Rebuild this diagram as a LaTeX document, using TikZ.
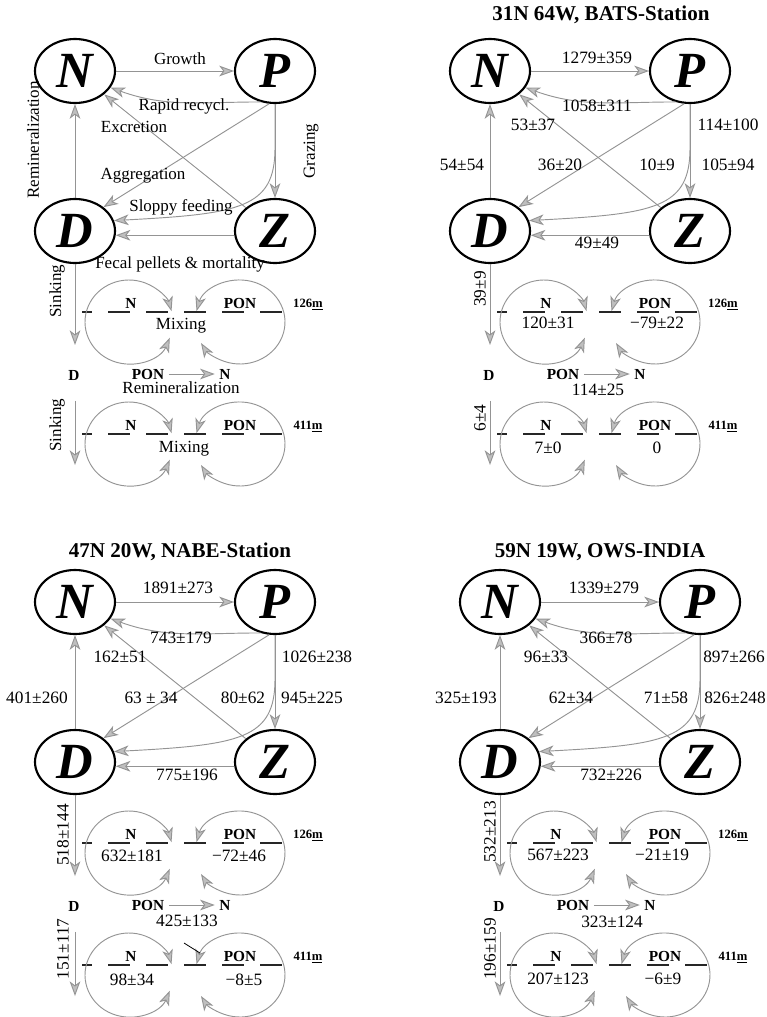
\documentclass[tikz,border=0pt]{standalone}
\usepackage{fontspec}
\setmainfont{Liberation Serif}
\usetikzlibrary{arrows.meta,positioning,shapes.geometric}

\begin{document}
\begin{tikzpicture}[x=0.75pt,y=0.75pt,
  >={Stealth[length=11pt,width=8pt,inset=3pt,fill=black!25]},
  box/.style={ellipse,draw,line width=1.6pt,minimum width=60pt,minimum height=48pt,inner sep=0pt,
    font=\fontsize{38}{40}\selectfont\bfseries\itshape},
  flow/.style={->,draw=black!42,line width=0.7pt},
  mix/.style={<->,draw=black!42,line width=0.7pt},
  level/.style={draw=black!85,line width=0.9pt,dash pattern=on 16.5pt off 12pt,dash phase=9pt},
  num/.style={font=\fontsize{13}{15}\selectfont},
  lab/.style={font=\fontsize{12.75}{14}\selectfont},
  bl/.style={font=\fontsize{11.5}{13}\selectfont\bfseries},
  dep/.style={font=\fontsize{9.5}{11}\selectfont\bfseries},
  ttl/.style={font=\fontsize{15.8}{18}\selectfont\bfseries}]
  \useasboundingbox (0,0) rectangle (767,-1017);

  \foreach \px/\py/\k in {0/0/a,415/0/b,0/531/c,425/531/d}{
    \begin{scope}[shift={(\px,-\py)}]
      \node[box] (N\k) at (75,-71) {N};
      \node[box] (P\k) at (275,-71) {P};
      \node[box] (D\k) at (75,-231) {D};
      \node[box] (Z\k) at (275,-231) {Z};
      \draw[flow] (N\k) -- (P\k);
      \draw[flow] (P\k.245) to[out=180,in=-20] (N\k.-25);
      \draw[flow] (Z\k) -- (N\k);
      \draw[flow] (P\k.260) -- (D\k.40);
      \draw[flow] (P\k) -- (Z\k);
      \draw[flow] (P\k.south) -- ++(0,-44) to[out=-90,in=3,out distance=45pt,in distance=95pt] (D\k.15);
      \draw[flow] (Z\k.186) -- (D\k.-6);
      \draw[flow] (D\k) -- (N\k);
      \coordinate (s1\k) at (75,-345);
      \draw[flow] (D\k) -- (s1\k);
      \node[bl] (Dl\k) at (74,-375) {D};
      \coordinate (s2\k) at (75,-465);
      \draw[flow,shorten <=12pt] (Dl\k.south -| s2\k) -- (s2\k);
      \node[bl] (pon\k) at (148,-374) {PON};
      \node[bl] (nn\k) at (225,-374) {N};
      \draw[flow] (pon\k) -- (nn\k);
      \foreach \r/\z in {0/126,122/411}{
        \draw[level] (82,-312-\r) -- (290,-312-\r);
        \draw[mix] (129,-322-\r) ++(-22:44 and 42) arc[start angle=-22,end angle=-345,x radius=44,y radius=42];
        \draw[mix] (240,-322-\r) ++(165:45 and 42) arc[start angle=165,end angle=-150,x radius=45,y radius=42];
        \node[bl] (ln\z\k) at (131,-303-\r) {N};
        \node[bl] (lp\z\k) at (240,-303-\r) {PON};
        \node[dep] (dz\z\k) at (308,-305-\r) {\z\underline{m}};
      }
    \end{scope}
  }

  \node[lab] (growth) at (180,-59) {Growth};
  \node[lab] (rapid) at (184,-106) {Rapid recycl.};
  \node[lab] (excr) at (134,-127) {Excretion};
  \node[lab] (aggr) at (143,-176) {Aggregation};
  \node[lab] (sloppy) at (181,-207) {Sloppy feeding};
  \node[lab] (fecal) at (180,-264) {Fecal pellets \& mortality};
  \node[lab,rotate=90] (remin) at (33,-140) {Remineralization};
  \node[lab,rotate=90] (grazing) at (311,-151) {Grazing};
  \node[lab,rotate=90] (sinka) at (57,-291) {Sinking};
  \node[lab,rotate=90] (sinkb) at (57,-425) {Sinking};
  \node[lab] (mixa) at (181,-326) {Mixing};
  \node[lab] (mixb) at (184,-449) {Mixing};
  \node[lab] (reminb) at (181,-388) {Remineralization};

  \begin{scope}[shift={(415,0)}]
    \node[ttl] (tb) at (186,-15) {31N 64W, BATS-Station};
    \node[num] (b1) at (182,-58) {1279±359};
    \node[num] (b2) at (182,-106) {1058±311};
    \node[num] (b3) at (118,-125) {53±37};
    \node[num] (b4) at (313,-125) {114±100};
    \node[num] (b5) at (47,-165) {54±54};
    \node[num] (b6) at (145,-165) {36±20};
    \node[num] (b7) at (242,-165) {10±9};
    \node[num] (b8) at (313,-165) {105±94};
    \node[num] (b9) at (182,-243) {49±49};
    \node[num,rotate=90] (b10) at (65,-289) {39±9};
    \node[num] (b11) at (133,-323) {120±31};
    \node[num] (b12) at (242,-323) {−79±22};
    \node[num] (b13) at (183,-390) {114±25};
    \node[num,rotate=90] (b14) at (65,-418) {6±4};
    \node[num] (b15) at (133,-448) {7±0};
    \node[num] (b16) at (242,-448) {0};
  \end{scope}

  \begin{scope}[shift={(0,-531)}]
    \node[ttl] (tc) at (180,-21) {47N 20W, NABE-Station};
    \node[num] (c1) at (178,-57) {1891±273};
    \node[num] (c2) at (181,-107) {743±179};
    \node[num] (c3) at (120,-126) {162±51};
    \node[num] (c4) at (317,-126) {1026±238};
    \node[num] (c5) at (37,-167) {401±260};
    \node[num] (c6) at (151,-167) {63 ± 34};
    \node[num] (c7) at (243,-167) {80±62};
    \node[num] (c8) at (312,-167) {945±225};
    \node[num] (c9) at (187,-244) {775±196};
    \node[num,rotate=90] (c10) at (63,-304) {518±144};
    \node[num] (c11) at (132,-325) {632±181};
    \node[num] (c12) at (239,-325) {−72±46};
    \node[num] (c13) at (187,-390) {425±133};
    \node[num,rotate=90] (c14) at (63,-418) {151±117};
    \node[num] (c15) at (132,-449) {98±34};
    \node[num] (c16) at (244,-449) {−8±5};
    \draw[line width=0.6pt] (184,-412) -- (200,-422);
  \end{scope}

  \begin{scope}[shift={(425,-531)}]
    \node[ttl] (td) at (175,-21) {59N 19W, OWS-INDIA};
    \node[num] (d1) at (179,-57) {1339±279};
    \node[num] (d2) at (181,-107) {366±78};
    \node[num] (d3) at (121,-126) {96±33};
    \node[num] (d4) at (309,-126) {897±266};
    \node[num] (d5) at (41,-167) {325±193};
    \node[num] (d6) at (146,-167) {62±34};
    \node[num] (d7) at (241,-167) {71±58};
    \node[num] (d8) at (310,-167) {826±248};
    \node[num] (d9) at (186,-244) {732±226};
    \node[num,rotate=90] (d10) at (65,-301) {532±213};
    \node[num] (d11) at (133,-324) {567±223};
    \node[num] (d12) at (237,-324) {−21±19};
    \node[num] (d13) at (187,-391) {323±124};
    \node[num,rotate=90] (d14) at (65,-418) {196±159};
    \node[num] (d15) at (133,-448) {207±123};
    \node[num] (d16) at (238,-448) {−6±9};
  \end{scope}
\end{tikzpicture}
\end{document}
